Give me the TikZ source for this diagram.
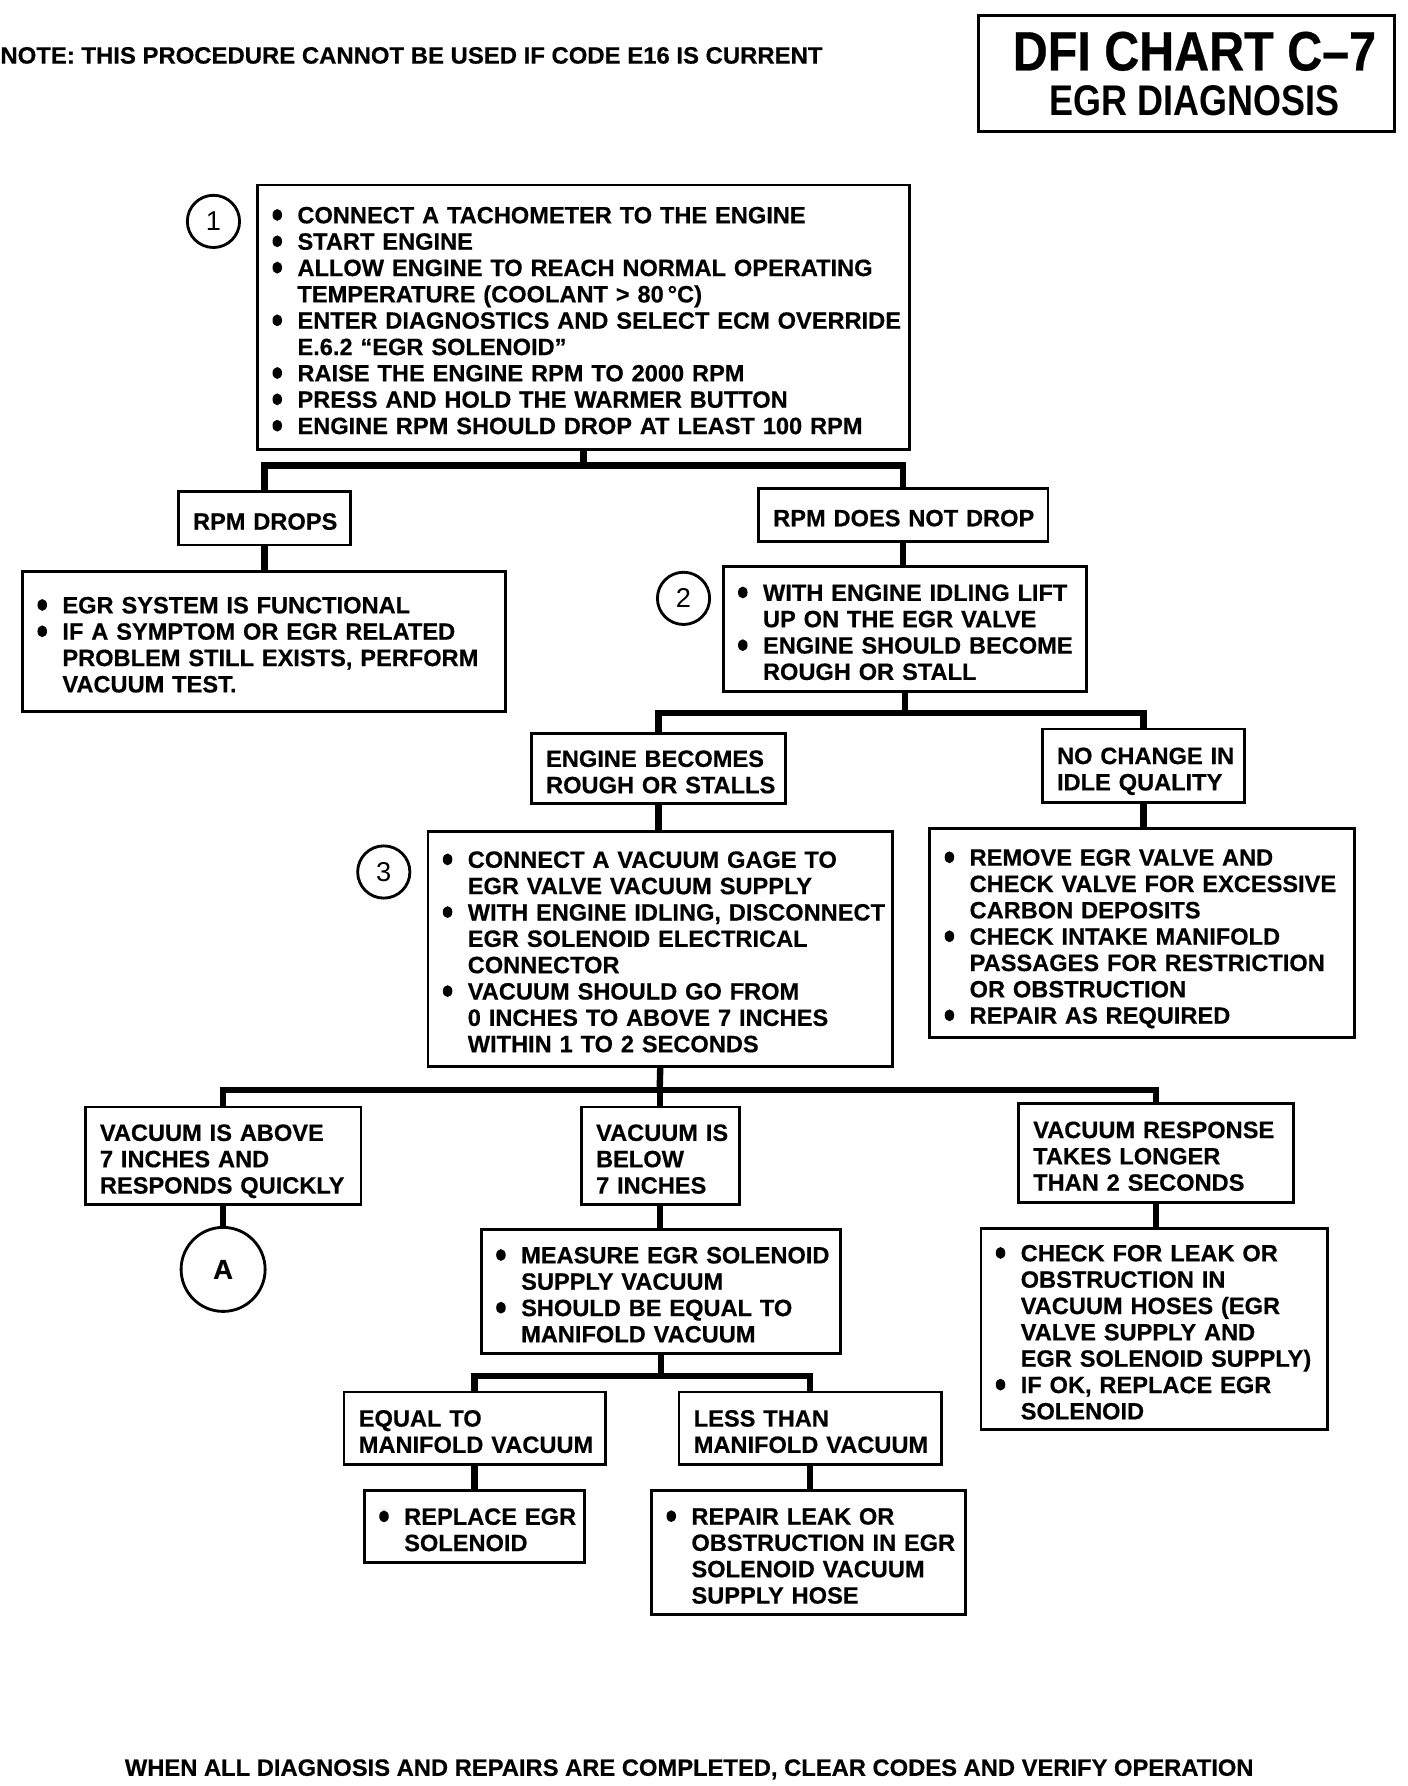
\documentclass[tikz,border=0pt]{standalone}
\usepackage{fontspec}
\setmainfont{Liberation Sans}
\newfontfamily\heavyf{Liberation Sans Bold}[FakeBold=0.5]
\newcommand\bodyfont{\heavyf\fontsize{10.4}{11.6}\selectfont}
\newcommand\numfont{\fontsize{12}{14}\selectfont}
\newcommand\bulletg{\tikz[baseline=0pt]\fill (2.2pt,3.7pt) ellipse [x radius=2.1pt, y radius=2.6pt];}
\newcommand\bl{\makebox[11pt][l]{\bulletg}}
\newcommand\ind{\hspace*{11pt}}
\tikzset{
  bx/.style={draw, line width=1.25pt, inner xsep=6.5pt, inner ysep=0pt, align=left, font=\bodyfont},
  conn/.style={line width=2.8pt},
  num/.style={draw, circle, line width=1.25pt, minimum size=23pt, inner sep=0pt, font=\numfont},
  plaintext/.style={inner sep=0pt, font=\bodyfont},
}
\newcommand\mkbox[6]{%
  \pgfmathsetmacro\bxw{(#4-#2)*0.5}%
  \pgfmathsetmacro\bxh{(#5-#3)*0.5}%
  \pgfmathsetmacro\bxt{(#4-#2)*0.5-13}%
  \node[bx, minimum width=\bxw pt, minimum height=\bxh pt, text width=\bxt pt] (#1) at ({(#2+#4)/2},{(#3+#5)/2}) {\begin{tabular}{@{}l@{}}\rule{0pt}{13.5pt}#6\end{tabular}};}
\begin{document}
\begin{tikzpicture}[x=0.5pt,y=-0.5pt]
\useasboundingbox (0,0) rectangle (1240,1573);
% header
\node[plaintext, anchor=base west] (note) at (0,56) {\resizebox{362pt}{\height}{NOTE: THIS PROCEDURE CANNOT BE USED IF CODE E16 IS CURRENT}};
\node[draw, line width=1.25pt, minimum width=183pt, minimum height=51pt, inner sep=0pt] (tbox) at (1045,65) {};
\node[inner sep=0pt, anchor=base] (t1) at (1052,62) {\resizebox{160pt}{\height}{\heavyf\fontsize{24.4}{28}\selectfont DFI CHART C–7}};
\node[inner sep=0pt, anchor=base] (t2) at (1052,102) {\resizebox{127.5pt}{\height}{\bfseries\fontsize{18.9}{22}\selectfont EGR DIAGNOSIS}};
% boxes
\mkbox{b1}{227}{163}{801}{396}{\bl CONNECT A TACHOMETER TO THE ENGINE\\
\bl START ENGINE\\
\bl ALLOW ENGINE TO REACH NORMAL OPERATING\\
\ind TEMPERATURE (COOLANT > 80\,°C)\\
\bl ENTER DIAGNOSTICS AND SELECT ECM OVERRIDE\\
\ind E.6.2 “EGR SOLENOID”\\
\bl RAISE THE ENGINE RPM TO 2000 RPM\\
\bl PRESS AND HOLD THE WARMER BUTTON\\
\bl ENGINE RPM SHOULD DROP AT LEAST 100 RPM}
\node[num] (c1) at (188,195) {1};
\mkbox{drops}{157}{433}{309}{480}{RPM DROPS}
\mkbox{nodrop}{668}{430}{923}{477}{RPM DOES NOT DROP}
\mkbox{egr}{20}{503}{445}{627}{\bl EGR SYSTEM IS FUNCTIONAL\\
\bl IF A SYMPTOM OR EGR RELATED\\
\ind PROBLEM STILL EXISTS, PERFORM\\
\ind VACUUM TEST.}
\mkbox{b2}{637}{499}{957}{609}{\bl WITH ENGINE IDLING LIFT\\
\ind UP ON THE EGR VALVE\\
\bl ENGINE SHOULD BECOME\\
\ind ROUGH OR STALL}
\node[num] (c2) at (602,527) {2};
\mkbox{rough}{468}{646}{692}{708}{ENGINE BECOMES\\ ROUGH OR STALLS}
\mkbox{nochg}{918}{642}{1096}{707}{NO CHANGE IN\\ IDLE QUALITY}
\mkbox{b3}{377}{732}{786}{939}{\bl CONNECT A VACUUM GAGE TO\\
\ind EGR VALVE VACUUM SUPPLY\\
\bl WITH ENGINE IDLING, DISCONNECT\\
\ind EGR SOLENOID ELECTRICAL\\
\ind CONNECTOR\\
\bl VACUUM SHOULD GO FROM\\
\ind 0 INCHES TO ABOVE 7 INCHES\\
\ind WITHIN 1 TO 2 SECONDS}
\node[num] (c3) at (338,768) {3};
\mkbox{rem}{819}{730}{1193}{914}{\bl REMOVE EGR VALVE AND\\
\ind CHECK VALVE FOR EXCESSIVE\\
\ind CARBON DEPOSITS\\
\bl CHECK INTAKE MANIFOLD\\
\ind PASSAGES FOR RESTRICTION\\
\ind OR OBSTRUCTION\\
\bl REPAIR AS REQUIRED}
\mkbox{vabove}{75}{975}{318}{1061}{VACUUM IS ABOVE\\ 7 INCHES AND\\ RESPONDS QUICKLY}
\mkbox{vbelow}{512}{975}{651}{1061}{VACUUM IS\\ BELOW\\ 7 INCHES}
\mkbox{vresp}{897}{972}{1139}{1059}{VACUUM RESPONSE\\ TAKES LONGER\\ THAN 2 SECONDS}
\node[draw, circle, line width=1.25pt, minimum size=37pt, inner sep=0pt, font=\heavyf\fontsize{12}{14}\selectfont] (cA) at (196.5,1118) {A};
\mkbox{meas}{424}{1083}{740}{1192}{\bl MEASURE EGR SOLENOID\\
\ind SUPPLY VACUUM\\
\bl SHOULD BE EQUAL TO\\
\ind MANIFOLD VACUUM}
\mkbox{check}{864}{1082}{1169}{1259}{\bl CHECK FOR LEAK OR\\
\ind OBSTRUCTION IN\\
\ind VACUUM HOSES (EGR\\
\ind VALVE SUPPLY AND\\
\ind EGR SOLENOID SUPPLY)\\
\bl IF OK, REPLACE EGR\\
\ind SOLENOID}
\mkbox{equal}{303}{1226}{533}{1290}{EQUAL TO\\ MANIFOLD VACUUM}
\mkbox{less}{598}{1226}{829}{1290}{LESS THAN\\ MANIFOLD VACUUM}
\mkbox{repl}{321}{1313}{515}{1376}{\bl REPLACE EGR\\
\ind SOLENOID}
\mkbox{repair}{574}{1313}{850}{1422}{\bl REPAIR LEAK OR\\
\ind OBSTRUCTION IN EGR\\
\ind SOLENOID VACUUM\\
\ind SUPPLY HOSE}
\node[plaintext, anchor=base] (foot) at (607,1564) {\resizebox{497pt}{\height}{WHEN ALL DIAGNOSIS AND REPAIRS ARE COMPLETED, CLEAR CODES AND VERIFY OPERATION}};
% connectors
\coordinate (j1) at (514,410);
\coordinate (j2) at (797,628);
\coordinate (j3) at (581,960);
\coordinate (j4) at (582,1212);
\draw[conn] (b1.south) -- (j1);
\draw[conn] (drops.north) |- (j1) -| (nodrop.north);
\draw[conn] (drops.south) -- (drops.south |- egr.north);
\draw[conn] (nodrop.south) -- (nodrop.south |- b2.north);
\draw[conn] (b2.south) -- (j2);
\draw[conn] (rough.north) |- (j2) -| (nochg.north);
\draw[conn] (rough.south) -- (rough.south |- b3.north);
\draw[conn] (nochg.south) -- (nochg.south |- rem.north);
\draw[conn] (b3.south) -- (j3);
\draw[conn] (vabove.north) |- (j3) -| (vresp.north);
\draw[conn] (j3) -- (j3 |- vbelow.north);
\draw[conn] (vabove.south) -- (cA.north);
\draw[conn] (vbelow.south) -- (vbelow.south |- meas.north);
\draw[conn] (vresp.south) -- (vresp.south |- check.north);
\draw[conn] (meas.south) -- (j4);
\draw[conn] (equal.north) |- (j4) -| (less.north);
\draw[conn] (equal.south) -- (equal.south |- repl.north);
\draw[conn] (less.south) -- (less.south |- repair.north);
\end{tikzpicture}
\end{document}
